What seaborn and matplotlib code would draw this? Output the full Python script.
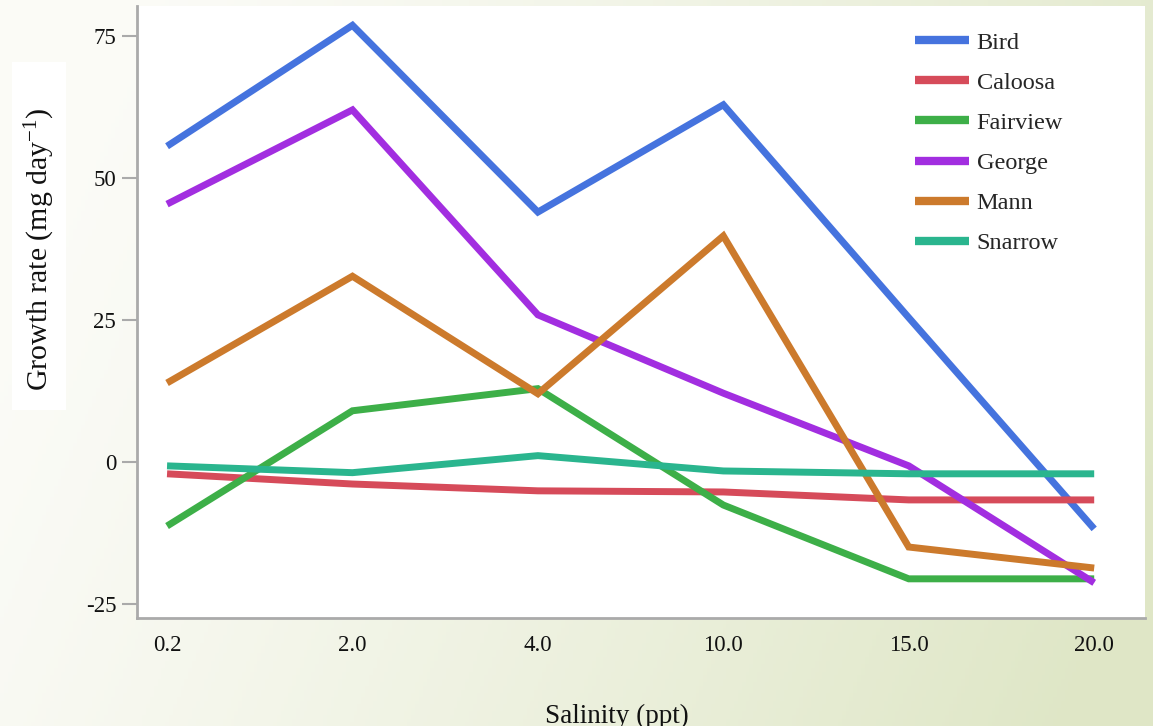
import numpy as np
import pandas as pd
import matplotlib
matplotlib.use("Agg")
import matplotlib.pyplot as plt
from matplotlib.patches import Rectangle
import seaborn as sns

salinity = ["0.2", "2.0", "4.0", "10.0", "15.0", "20.0"]
sites = ["Bird", "Caloosa", "Fairview", "George", "Mann", "Snarrow"]
bird = [55.6, 76.9, 44.0, 62.9, 25.4, -11.8]
caloosa = [-2.1, -3.9, -5.1, -5.3, -6.7, -6.7]
fairview = [-11.3, 9.0, 12.9, -7.6, -20.6, -20.6]
george = [45.4, 62.0, 25.9, 12.1, -0.7, -21.3]
mann = [13.9, 32.7, 12.0, 39.8, -15.0, -18.7]
snarrow = [-0.7, -1.9, 1.1, -1.6, -2.1, -2.1]
colors = ["#4573de", "#d64b5a", "#3daf48", "#a22ee0", "#cc7a2c", "#2ab58e"]

series = [bird, caloosa, fairview, george, mann, snarrow]
df = pd.DataFrame({
    "Salinity": salinity * len(sites),
    "Site": [s for s in sites for _ in salinity],
    "Growth": [v for ser in series for v in ser],
})

sns.set_theme(style="white")
plt.rcParams['font.family'] = ['Liberation Serif', 'DejaVu Serif']
plt.rcParams['mathtext.default'] = 'regular'

W, H = 1153, 726
fig = plt.figure(figsize=(W / 100, H / 100), dpi=100)

# background gradient
bg = fig.add_axes([0, 0, 1, 1], zorder=-10)
xx, yy = np.meshgrid(np.linspace(0, 1, 300), np.linspace(0, 1, 200))
t = np.clip(0.95 * xx + 0.25 * yy - 0.12, 0, 1) ** 1.2
c0 = np.array([0.985, 0.985, 0.968])
c1 = np.array([0.875, 0.905, 0.78])
img = c0[None, None, :] * (1 - t[..., None]) + c1[None, None, :] * t[..., None]
bg.imshow(img, aspect="auto", extent=[0, 1, 0, 1], origin="upper")
bg.set_axis_off()
bg.add_patch(Rectangle((12 / W, 1 - 410 / H), 54 / W, 348 / H,
                       transform=bg.transAxes, facecolor="white",
                       edgecolor="none", zorder=5))

ax = fig.add_axes([137 / W, 1 - 618 / H, (1145 - 137) / W, (618 - 6) / H])
ax.set_facecolor("white")
sns.lineplot(data=df, x="Salinity", y="Growth", hue="Site", palette=colors,
             hue_order=sites, sort=False, linewidth=5, ax=ax)
for ln in ax.get_lines():
    ln.set_solid_capstyle("butt")
    ln.set_solid_joinstyle("miter")

ax.set_xlim(-0.162, 5.274)
ax.set_ylim(-27.5, 80.3)
ax.set_yticks([-25, 0, 25, 50, 75])
ax.set_yticklabels(["-25", "0", "25", "50", "75"])
for s in ["top", "right"]:
    ax.spines[s].set_visible(False)
for s in ["left", "bottom"]:
    ax.spines[s].set_color("#aaaaaa")
    ax.spines[s].set_linewidth(2)
ax.tick_params(axis="y", which="both", left=True, length=11, width=1.5,
               color="#aaaaaa", labelsize=16.5, pad=4, labelcolor="#111111")
ax.tick_params(axis="x", bottom=False, labelsize=16.5, pad=6, labelcolor="#111111")

ax.set_xlabel("")
ax.set_ylabel("")
fig.text(40 / W, 1 - 249 / H, "Growth rate (mg day$^{-1}$)", rotation=90,
         ha="center", va="center", fontsize=21.5, color="#111111")
fig.text(617 / W, 1 - 716 / H, "Salinity (ppt)", ha="center", va="center",
         fontsize=19.5, color="#111111")

leg = ax.legend(loc="upper left", bbox_to_anchor=(0.772, 0.958), frameon=False,
                fontsize=17.5, handlelength=2.2, handletextpad=0.33,
                labelspacing=0.745, borderaxespad=0, borderpad=0)
for line in leg.get_lines():
    line.set_linewidth(6)
    line.set_solid_capstyle("butt")

fig.savefig("out.png", dpi=100)
